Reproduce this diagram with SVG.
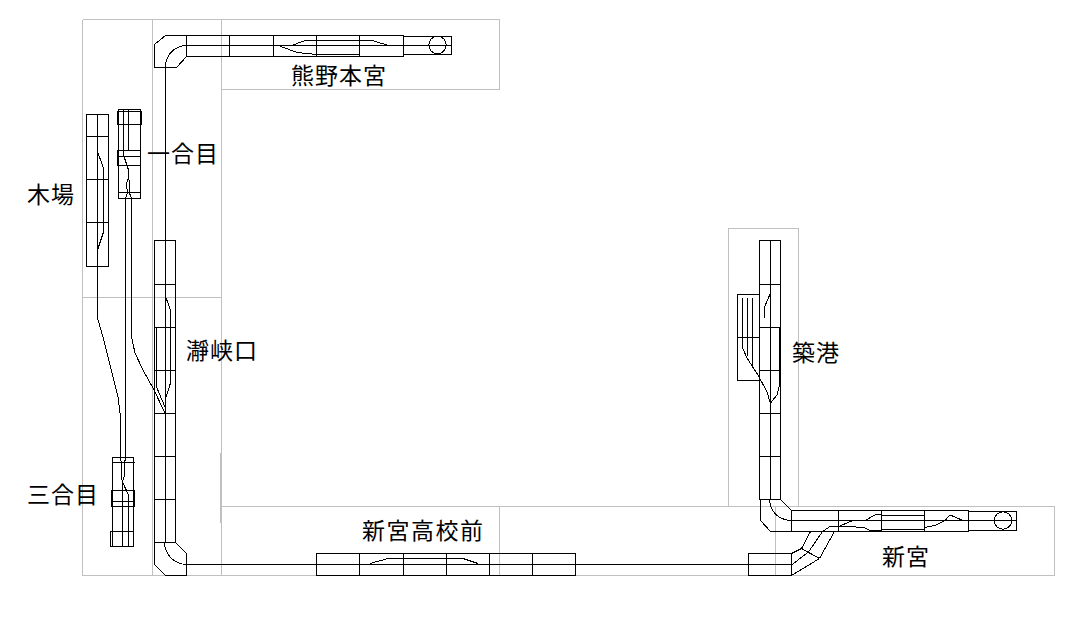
<svg xmlns="http://www.w3.org/2000/svg" width="1086" height="634" viewBox="0 0 1086 634">
<style>
.g{fill:none;stroke:#c0c0c0;stroke-width:1;shape-rendering:crispEdges}
.t{fill:none;stroke:#000;stroke-width:1;shape-rendering:crispEdges}
.b{fill:#fff;stroke:#000;stroke-width:1;shape-rendering:crispEdges}
.c{fill:none;stroke:#000;stroke-width:1;shape-rendering:crispEdges}
text{font-family:"Noto Sans CJK JP","Noto Sans",sans-serif;font-size:23px;fill:#000}
</style>
<rect width="1086" height="634" fill="#fff"/>
<g id="grid">
<path class="g" d="M82.5 19.5H499.5V89.5H221.5M82.5 19.5V575.5H1054.5V506.5H221.5M152.5 19.5V575.5M221.5 19.5V575.5M82.5 297.5H221.5M499.5 506.5V575.5M775.5 506.5V575.5M728.5 506.5V228.5H798.5V506.5"/>
<path d="M221 453V523" stroke="#c0c0c0" stroke-width="2" fill="none"/>
</g>
<g id="connectors">
<path class="t" d="M165.5 67V542M187 564.5H748"/>
<path class="t" d="M97.5 114V318"/>
<path class="c" d="M97.5 318L103 337L113 377L118 397L120.5 417V457"/>
<path class="t" d="M125.5 198V457"/>
<path class="t" d="M131.5 198V337"/>
<path class="c" d="M131.5 337L135 353L143 370L153 388L165 413"/>
</g>
<g id="kumano-hongu">
<path class="t" d="M154.5 44.5L165.5 35.5H186.5V56.5L176.5 67.5H154.5Z"/>
<path class="c" d="M186.5 45.5C174 46 165.5 55 165.5 67.5"/>
<path class="t" d="M186.5 35.5H403.5V56.5H186.5ZM229.5 35.5V56.5M273.5 35.5V56.5M316.5 35.5V56.5M359.5 35.5V56.5M403.5 36.5H451.5V54.5H403.5M186.5 45.5H451.5M316.5 40.5H359.5M316.5 54.5H359.5"/>
<circle class="c" cx="437.5" cy="45" r="8.7"/>
<path class="c" d="M293 45L305 40.5H316.5M277 45L297 52.5L316.5 54.5M359.5 40.5H372L387 45"/>
<text x="291" y="84" letter-spacing="1">熊野本宮</text>
</g>
<g id="ichigome">
<path class="t" d="M118.5 109.5H140.5V198.5H118.5ZM117.5 111.5H141.5V124.5H117.5ZM117.5 150.5H140.5V165.5H117.5ZM117.5 156.5H140.5M118.5 192.5H140.5M123.5 110V155M128.5 110V150"/>
<path class="c" d="M123.5 155L128.5 170V177L126 186L128 192L125.5 198M128.5 177L130 186L129 192L131.5 198"/>
<text x="147" y="162" letter-spacing="1">一合目</text>
</g>
<g id="kiba">
<path class="t" d="M86.5 114.5H108.5V266.5H86.5ZM86.5 136.5H108.5M86.5 179.5H108.5M86.5 222.5H108.5"/>
<path class="c" d="M97.5 151.5L103.5 168V232L97.5 250"/>
<text x="27" y="203" letter-spacing="1">木場</text>
</g>
<g id="dorokyo-guchi">
<path class="t" d="M154.5 240.5H175.5V542.5H154.5ZM154.5 284.5H175.5M154.5 327.5H175.5M154.5 370.5H175.5M154.5 413.5H175.5M154.5 456.5H175.5M154.5 499.5H175.5M156.5 327.5V387M170.5 310V383"/>
<path class="c" d="M165 295L170.5 310M170.5 383L165 400"/>
<path class="c" d="M156.5 387L165 407"/>
<text x="186" y="359" letter-spacing="1">瀞峡口</text>
</g>
<g id="sangome">
<path class="t" d="M112.5 457.5H133.5V546.5H112.5ZM111.5 462.5H134.5M111.5 490.5H134.5V506.5H111.5ZM111.5 501.5H134.5M110.5 531.5H133.5V546.5H110.5ZM122.5 482V546M128.5 495V546"/>
<path class="c" d="M120.5 457L122 468L121 475L122.5 482L128.5 495M125.5 457L124 468L124.5 475L122.5 482"/>
<text x="27" y="503" letter-spacing="1">三合目</text>
</g>
<g id="corner-sw">
<path class="t" d="M154.5 542.5V564.5L165.5 575.5H186.5V553.5L175.5 542.5Z"/>
<path class="c" d="M164.5 542.5C165 555 174 564 186.5 564.5"/>
</g>
<g id="shingu-koko-mae">
<path class="t" d="M316.5 553.5H575.5V575.5H316.5ZM359.5 553.5V575.5M403.5 553.5V575.5M446.5 553.5V575.5M489.5 553.5V575.5M532.5 553.5V575.5M388 558.5H463"/>
<path class="c" d="M370 563.5L388 558.5M463 558.5L478 563.5"/>
<text x="362" y="539" letter-spacing="1.5">新宮高校前</text>
</g>
<g id="chikko">
<path class="b" d="M737.5 294.5H759.5V380.5H737.5ZM737.5 337.5H759.5"/>
<path class="t" d="M742.5 298V348M747.5 298V356M752.5 298V368"/>
<path class="c" d="M742.5 348L747 358L758 375L767 392L770 402"/>
<path class="t" d="M759.5 240.5H780.5V499.5H759.5ZM759.5 284.5H780.5M759.5 327.5H779.5M759.5 370.5H780.5M759.5 413.5H780.5M759.5 456.5H780.5M770.5 240V499M779.5 327.5V385"/>
<path class="c" d="M770.5 293L764.5 307L765 318M779.5 385L777 395L770.5 403"/>
<text x="792" y="361" letter-spacing="1">築港</text>
</g>
<g id="corner-se">
<path class="t" d="M760.5 499.5V520.5L770.5 531.5H791.5V510.5L780.5 499.5Z"/>
<path class="c" d="M769.5 499.5C770 512 779 520 791.5 520.5"/>
</g>
<g id="shingu">
<path class="t" d="M791.5 510.5H968.5V531.5H791.5ZM838.5 510.5V531.5M881.5 510.5V531.5M924.5 510.5V531.5M968.5 511.5H1016.5V530.5H968.5M791.5 520.5H1016.5M881.5 515.5H924.5M881.5 529.5H924.5"/>
<circle class="c" cx="1003" cy="520.5" r="8.7"/>
<path class="c" d="M838.5 526.5H851L865 528L870 530.5H881.5M838.5 526.5L853 520.5H865L875 515L881.5 514.5M924.5 527.5L935 525.5L945 520.5L950 515L955 517L963 520.5"/>
<path class="t" d="M748.5 553.5H791.5V575.5H748.5ZM748.5 564.5H791.5"/>
<path class="c" d="M810.5 531.5L801.5 548.5L791.5 553.5M834.5 531.5L819.5 558.5L791.5 575.5M838.5 526.5H830L822.5 531.5L808.5 552L791.5 565M801.5 548.5L819.5 558.5"/>
<text x="882" y="565" letter-spacing="1">新宮</text>
</g>
</svg>
